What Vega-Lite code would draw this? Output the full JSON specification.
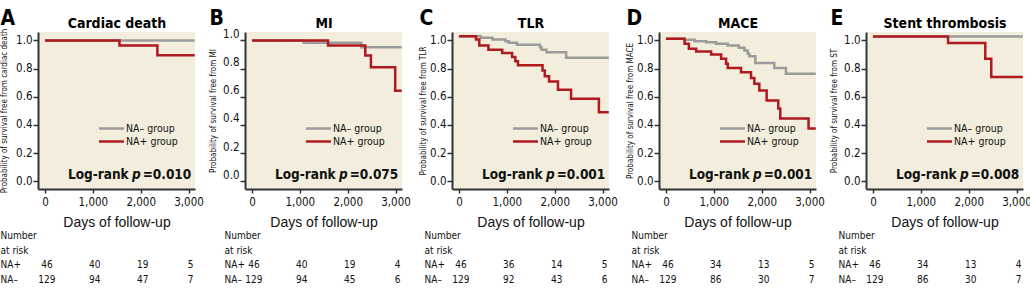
{
  "$schema": "https://vega.github.io/schema/vega-lite/v6.json",
  "padding": {"left": 0, "top": 8, "right": 0, "bottom": 0},
  "background": "white",
  "config": {
    "font": "DejaVu Sans Condensed, Liberation Sans, sans-serif",
    "view": {"stroke": null, "fill": "#f2eddc"},
    "axis": {"grid": false, "domainColor": "#333", "domainWidth": 2, "tickColor": "#333", "tickWidth": 1.5, "labelFont": "DejaVu Sans Condensed, Liberation Sans, sans-serif", "labelFontSize": 11.5, "labelColor": "#111", "titleColor": "#111", "titleFontWeight": "normal", "labelFlush": false, "labelOverlap": false},
    "axisBottom": {"tickSize": 4, "labelPadding": 3, "titleFont": "Liberation Sans", "titleFontSize": 14, "titlePadding": 8},
    "axisLeft": {"tickSize": 5, "labelPadding": 1, "titleFont": "DejaVu Sans Condensed, Liberation Sans, sans-serif", "titleFontSize": 8},
    "legend": {"orient": "none", "legendX": 66, "legendY": 89, "title": null, "symbolType": "M-2,0H2", "symbolSize": 156, "symbolStrokeWidth": 2.5, "labelFont": "DejaVu Sans Condensed, Liberation Sans, sans-serif", "labelFontSize": 10.5, "labelColor": "#111", "labelOffset": 7, "padding": 0, "rowPadding": 0},
    "title": {"font": "DejaVu Sans Condensed, Liberation Sans, sans-serif"},
    "text": {"font": "DejaVu Sans Condensed, Liberation Sans, sans-serif", "color": "#111"}
  },
  "datasets": {
    "km": [
      {"panel": "A", "group": "NA– group", "day": 0, "surv": 1.0},
      {"panel": "A", "group": "NA– group", "day": 3130, "surv": 1.0},
      {"panel": "A", "group": "NA+ group", "day": 0, "surv": 1.0},
      {"panel": "A", "group": "NA+ group", "day": 1557, "surv": 0.965},
      {"panel": "A", "group": "NA+ group", "day": 2349, "surv": 0.894},
      {"panel": "A", "group": "NA+ group", "day": 3130, "surv": 0.894},
      {"panel": "B", "group": "NA– group", "day": 0, "surv": 1.0},
      {"panel": "B", "group": "NA– group", "day": 1083, "surv": 0.984},
      {"panel": "B", "group": "NA– group", "day": 2285, "surv": 0.952},
      {"panel": "B", "group": "NA– group", "day": 3130, "surv": 0.952},
      {"panel": "B", "group": "NA+ group", "day": 0, "surv": 1.0},
      {"panel": "B", "group": "NA+ group", "day": 1590, "surv": 0.964},
      {"panel": "B", "group": "NA+ group", "day": 2368, "surv": 0.893},
      {"panel": "B", "group": "NA+ group", "day": 2486, "surv": 0.81},
      {"panel": "B", "group": "NA+ group", "day": 2993, "surv": 0.643},
      {"panel": "B", "group": "NA+ group", "day": 3130, "surv": 0.643},
      {"panel": "C", "group": "NA– group", "day": 0, "surv": 1.03},
      {"panel": "C", "group": "NA– group", "day": 459, "surv": 1.019},
      {"panel": "C", "group": "NA– group", "day": 699, "surv": 1.007},
      {"panel": "C", "group": "NA– group", "day": 973, "surv": 0.995},
      {"panel": "C", "group": "NA– group", "day": 1041, "surv": 0.983},
      {"panel": "C", "group": "NA– group", "day": 1212, "surv": 0.969},
      {"panel": "C", "group": "NA– group", "day": 1691, "surv": 0.952},
      {"panel": "C", "group": "NA– group", "day": 1726, "surv": 0.934},
      {"panel": "C", "group": "NA– group", "day": 1829, "surv": 0.917},
      {"panel": "C", "group": "NA– group", "day": 2240, "surv": 0.877},
      {"panel": "C", "group": "NA– group", "day": 3130, "surv": 0.877},
      {"panel": "C", "group": "NA+ group", "day": 0, "surv": 1.03},
      {"panel": "C", "group": "NA+ group", "day": 356, "surv": 1.007},
      {"panel": "C", "group": "NA+ group", "day": 425, "surv": 0.965},
      {"panel": "C", "group": "NA+ group", "day": 616, "surv": 0.934},
      {"panel": "C", "group": "NA+ group", "day": 904, "surv": 0.91},
      {"panel": "C", "group": "NA+ group", "day": 1110, "surv": 0.882},
      {"panel": "C", "group": "NA+ group", "day": 1178, "surv": 0.853},
      {"panel": "C", "group": "NA+ group", "day": 1233, "surv": 0.823},
      {"panel": "C", "group": "NA+ group", "day": 1746, "surv": 0.787},
      {"panel": "C", "group": "NA+ group", "day": 1794, "surv": 0.745},
      {"panel": "C", "group": "NA+ group", "day": 1884, "surv": 0.709},
      {"panel": "C", "group": "NA+ group", "day": 2069, "surv": 0.65},
      {"panel": "C", "group": "NA+ group", "day": 2342, "surv": 0.586},
      {"panel": "C", "group": "NA+ group", "day": 2924, "surv": 0.49},
      {"panel": "C", "group": "NA+ group", "day": 3130, "surv": 0.49},
      {"panel": "D", "group": "NA– group", "day": 0, "surv": 1.012},
      {"panel": "D", "group": "NA– group", "day": 389, "surv": 1.005},
      {"panel": "D", "group": "NA– group", "day": 597, "surv": 0.995},
      {"panel": "D", "group": "NA– group", "day": 840, "surv": 0.988},
      {"panel": "D", "group": "NA– group", "day": 1049, "surv": 0.977},
      {"panel": "D", "group": "NA– group", "day": 1292, "surv": 0.965},
      {"panel": "D", "group": "NA– group", "day": 1521, "surv": 0.948},
      {"panel": "D", "group": "NA– group", "day": 1639, "surv": 0.929},
      {"panel": "D", "group": "NA– group", "day": 1708, "surv": 0.905},
      {"panel": "D", "group": "NA– group", "day": 1743, "surv": 0.887},
      {"panel": "D", "group": "NA– group", "day": 1868, "surv": 0.839},
      {"panel": "D", "group": "NA– group", "day": 2264, "surv": 0.804},
      {"panel": "D", "group": "NA– group", "day": 2507, "surv": 0.764},
      {"panel": "D", "group": "NA– group", "day": 3130, "surv": 0.764},
      {"panel": "D", "group": "NA+ group", "day": 0, "surv": 1.012},
      {"panel": "D", "group": "NA+ group", "day": 389, "surv": 0.977},
      {"panel": "D", "group": "NA+ group", "day": 479, "surv": 0.941},
      {"panel": "D", "group": "NA+ group", "day": 632, "surv": 0.922},
      {"panel": "D", "group": "NA+ group", "day": 944, "surv": 0.901},
      {"panel": "D", "group": "NA+ group", "day": 1153, "surv": 0.87},
      {"panel": "D", "group": "NA+ group", "day": 1257, "surv": 0.835},
      {"panel": "D", "group": "NA+ group", "day": 1292, "surv": 0.804},
      {"panel": "D", "group": "NA+ group", "day": 1569, "surv": 0.775},
      {"panel": "D", "group": "NA+ group", "day": 1778, "surv": 0.733},
      {"panel": "D", "group": "NA+ group", "day": 1847, "surv": 0.693},
      {"panel": "D", "group": "NA+ group", "day": 1951, "surv": 0.645},
      {"panel": "D", "group": "NA+ group", "day": 2104, "surv": 0.574},
      {"panel": "D", "group": "NA+ group", "day": 2347, "surv": 0.516},
      {"panel": "D", "group": "NA+ group", "day": 2389, "surv": 0.445},
      {"panel": "D", "group": "NA+ group", "day": 2979, "surv": 0.374},
      {"panel": "D", "group": "NA+ group", "day": 3130, "surv": 0.374},
      {"panel": "E", "group": "NA– group", "day": 0, "surv": 1.028},
      {"panel": "E", "group": "NA– group", "day": 3130, "surv": 1.028},
      {"panel": "E", "group": "NA+ group", "day": 0, "surv": 1.028},
      {"panel": "E", "group": "NA+ group", "day": 1569, "surv": 0.981},
      {"panel": "E", "group": "NA+ group", "day": 2347, "surv": 0.87},
      {"panel": "E", "group": "NA+ group", "day": 2472, "surv": 0.74},
      {"panel": "E", "group": "NA+ group", "day": 3130, "surv": 0.74}
    ],
    "stat": [
      {"panel": "A", "a": "Log-rank", "p": "p", "v": "=0.010"},
      {"panel": "B", "a": "Log-rank", "p": "p", "v": "=0.075"},
      {"panel": "C", "a": "Log-rank", "p": "p", "v": "=0.001"},
      {"panel": "D", "a": "Log-rank", "p": "p", "v": "=0.001"},
      {"panel": "E", "a": "Log-rank", "p": "p", "v": "=0.008"}
    ],
    "risk": [
      {"panel": "A", "grp": "NA+", "day": 0, "n": 46}, {"panel": "A", "grp": "NA+", "day": 1000, "n": 40}, {"panel": "A", "grp": "NA+", "day": 2000, "n": 19}, {"panel": "A", "grp": "NA+", "day": 3000, "n": 5},
      {"panel": "A", "grp": "NA–", "day": 0, "n": 129}, {"panel": "A", "grp": "NA–", "day": 1000, "n": 94}, {"panel": "A", "grp": "NA–", "day": 2000, "n": 47}, {"panel": "A", "grp": "NA–", "day": 3000, "n": 7},
      {"panel": "B", "grp": "NA+", "day": 0, "n": 46}, {"panel": "B", "grp": "NA+", "day": 1000, "n": 40}, {"panel": "B", "grp": "NA+", "day": 2000, "n": 19}, {"panel": "B", "grp": "NA+", "day": 3000, "n": 4},
      {"panel": "B", "grp": "NA–", "day": 0, "n": 129}, {"panel": "B", "grp": "NA–", "day": 1000, "n": 94}, {"panel": "B", "grp": "NA–", "day": 2000, "n": 45}, {"panel": "B", "grp": "NA–", "day": 3000, "n": 6},
      {"panel": "C", "grp": "NA+", "day": 0, "n": 46}, {"panel": "C", "grp": "NA+", "day": 1000, "n": 36}, {"panel": "C", "grp": "NA+", "day": 2000, "n": 14}, {"panel": "C", "grp": "NA+", "day": 3000, "n": 5},
      {"panel": "C", "grp": "NA–", "day": 0, "n": 129}, {"panel": "C", "grp": "NA–", "day": 1000, "n": 92}, {"panel": "C", "grp": "NA–", "day": 2000, "n": 43}, {"panel": "C", "grp": "NA–", "day": 3000, "n": 6},
      {"panel": "D", "grp": "NA+", "day": 0, "n": 46}, {"panel": "D", "grp": "NA+", "day": 1000, "n": 34}, {"panel": "D", "grp": "NA+", "day": 2000, "n": 13}, {"panel": "D", "grp": "NA+", "day": 3000, "n": 5},
      {"panel": "D", "grp": "NA–", "day": 0, "n": 129}, {"panel": "D", "grp": "NA–", "day": 1000, "n": 86}, {"panel": "D", "grp": "NA–", "day": 2000, "n": 30}, {"panel": "D", "grp": "NA–", "day": 3000, "n": 7},
      {"panel": "E", "grp": "NA+", "day": 0, "n": 46}, {"panel": "E", "grp": "NA+", "day": 1000, "n": 34}, {"panel": "E", "grp": "NA+", "day": 2000, "n": 13}, {"panel": "E", "grp": "NA+", "day": 3000, "n": 4},
      {"panel": "E", "grp": "NA–", "day": 0, "n": 129}, {"panel": "E", "grp": "NA–", "day": 1000, "n": 86}, {"panel": "E", "grp": "NA–", "day": 2000, "n": 30}, {"panel": "E", "grp": "NA–", "day": 3000, "n": 7}
    ]
  },
  "columns": 5,
  "spacing": {"column": 50, "row": 39},
  "bounds": "flush",
  "resolve": {"scale": {"color": "independent"}, "legend": {"color": "independent"}},
  "concat": [
    {
      "width": 157, "height": 157,
      "title": {"text": "A", "anchor": "start", "frame": "bounds", "fontSize": 21, "fontWeight": "bold", "baseline": "alphabetic", "offset": -30, "color": "#000"},
      "layer": [
        {"data": {"name": "km"}, "transform": [{"filter": "datum.panel === 'A'"}],
         "mark": {"type": "line", "interpolate": "step-after", "strokeWidth": 2.5, "clip": true},
         "encoding": {
           "x": {"field": "day", "type": "quantitative", "scale": {"domain": [-145, 3135], "nice": false, "zero": false}, "axis": {"orient": "bottom", "values": [0, 1000, 2000, 3000], "format": ",d", "title": "Days of follow-up"}},
           "y": {"field": "surv", "type": "quantitative", "scale": {"domain": [-0.055, 1.06], "nice": false, "zero": false}, "axis": {"values": [0, 0.2, 0.4, 0.6, 0.8, 1], "format": ".1f", "title": "Probability of survival free from cardiac death", "titlePadding": 7}},
           "color": {"field": "group", "type": "nominal", "scale": {"domain": ["NA– group", "NA+ group"], "range": ["#9b9b9b", "#b0191f"]}}
         }},
        {"data": {"name": "stat"}, "transform": [{"filter": "datum.panel === 'A'"}],
         "mark": {"type": "text", "align": "right", "baseline": "alphabetic", "fontSize": 13.5, "fontWeight": "bold", "dx": -12},
         "encoding": {"x": {"datum": 2000, "type": "quantitative", "axis": {"orient": "top", "title": "Cardiac death", "labels": false, "ticks": false, "domain": false, "titleFontSize": 14, "titleFontWeight": "bold", "titleColor": "#000", "titleBaseline": "alphabetic", "titlePadding": 5}}, "y": {"datum": 0.015, "type": "quantitative", "axis": null}, "text": {"field": "a"}}},
        {"data": {"name": "stat"}, "transform": [{"filter": "datum.panel === 'A'"}],
         "mark": {"type": "text", "align": "right", "baseline": "alphabetic", "fontSize": 13.5, "fontWeight": "bold", "fontStyle": "italic", "dx": 0},
         "encoding": {"x": {"datum": 2000, "type": "quantitative", "axis": null}, "y": {"datum": 0.015, "type": "quantitative", "axis": null}, "text": {"field": "p"}}},
        {"data": {"name": "stat"}, "transform": [{"filter": "datum.panel === 'A'"}],
         "mark": {"type": "text", "align": "left", "baseline": "alphabetic", "fontSize": 13.5, "fontWeight": "bold", "dx": 2},
         "encoding": {"x": {"datum": 2000, "type": "quantitative", "axis": null}, "y": {"datum": 0.015, "type": "quantitative", "axis": null}, "text": {"field": "v"}}}
      ],
      "resolve": {"axis": {"x": "independent", "y": "independent"}}
    },
    {
      "width": 157, "height": 157,
      "title": {"text": "B", "anchor": "start", "frame": "bounds", "fontSize": 21, "fontWeight": "bold", "baseline": "alphabetic", "offset": -30, "color": "#000"},
      "layer": [
        {"data": {"name": "km"}, "transform": [{"filter": "datum.panel === 'B'"}],
         "mark": {"type": "line", "interpolate": "step-after", "strokeWidth": 2.5, "clip": true},
         "encoding": {
           "x": {"field": "day", "type": "quantitative", "scale": {"domain": [-145, 3135], "nice": false, "zero": false}, "axis": {"orient": "bottom", "values": [0, 1000, 2000, 3000], "format": ",d", "title": "Days of follow-up"}},
           "y": {"field": "surv", "type": "quantitative", "scale": {"domain": [-0.055, 1.06], "nice": false, "zero": false}, "axis": {"values": [0, 0.2, 0.4, 0.6, 0.8, 1], "format": ".1f", "title": "Probability of survival free from MI", "titlePadding": 5, "labelOffset": -6}},
           "color": {"field": "group", "type": "nominal", "scale": {"domain": ["NA– group", "NA+ group"], "range": ["#9b9b9b", "#b0191f"]}}
         }},
        {"data": {"name": "stat"}, "transform": [{"filter": "datum.panel === 'B'"}],
         "mark": {"type": "text", "align": "right", "baseline": "alphabetic", "fontSize": 13.5, "fontWeight": "bold", "dx": -12},
         "encoding": {"x": {"datum": 2000, "type": "quantitative", "axis": {"orient": "top", "title": "MI", "labels": false, "ticks": false, "domain": false, "titleFontSize": 14, "titleFontWeight": "bold", "titleColor": "#000", "titleBaseline": "alphabetic", "titlePadding": 5}}, "y": {"datum": 0.015, "type": "quantitative", "axis": null}, "text": {"field": "a"}}},
        {"data": {"name": "stat"}, "transform": [{"filter": "datum.panel === 'B'"}],
         "mark": {"type": "text", "align": "right", "baseline": "alphabetic", "fontSize": 13.5, "fontWeight": "bold", "fontStyle": "italic", "dx": 0},
         "encoding": {"x": {"datum": 2000, "type": "quantitative", "axis": null}, "y": {"datum": 0.015, "type": "quantitative", "axis": null}, "text": {"field": "p"}}},
        {"data": {"name": "stat"}, "transform": [{"filter": "datum.panel === 'B'"}],
         "mark": {"type": "text", "align": "left", "baseline": "alphabetic", "fontSize": 13.5, "fontWeight": "bold", "dx": 2},
         "encoding": {"x": {"datum": 2000, "type": "quantitative", "axis": null}, "y": {"datum": 0.015, "type": "quantitative", "axis": null}, "text": {"field": "v"}}}
      ],
      "resolve": {"axis": {"x": "independent", "y": "independent"}}
    },
    {
      "width": 157, "height": 157,
      "title": {"text": "C", "anchor": "start", "frame": "bounds", "fontSize": 21, "fontWeight": "bold", "baseline": "alphabetic", "offset": -30, "color": "#000"},
      "layer": [
        {"data": {"name": "km"}, "transform": [{"filter": "datum.panel === 'C'"}],
         "mark": {"type": "line", "interpolate": "step-after", "strokeWidth": 2.5, "clip": true},
         "encoding": {
           "x": {"field": "day", "type": "quantitative", "scale": {"domain": [-145, 3135], "nice": false, "zero": false}, "axis": {"orient": "bottom", "values": [0, 1000, 2000, 3000], "format": ",d", "title": "Days of follow-up"}},
           "y": {"field": "surv", "type": "quantitative", "scale": {"domain": [-0.055, 1.06], "nice": false, "zero": false}, "axis": {"values": [0, 0.2, 0.4, 0.6, 0.8, 1], "format": ".1f", "title": "Probability of survival free from TLR", "titlePadding": 2}},
           "color": {"field": "group", "type": "nominal", "scale": {"domain": ["NA– group", "NA+ group"], "range": ["#9b9b9b", "#b0191f"]}}
         }},
        {"data": {"name": "stat"}, "transform": [{"filter": "datum.panel === 'C'"}],
         "mark": {"type": "text", "align": "right", "baseline": "alphabetic", "fontSize": 13.5, "fontWeight": "bold", "dx": -12},
         "encoding": {"x": {"datum": 2000, "type": "quantitative", "axis": {"orient": "top", "title": "TLR", "labels": false, "ticks": false, "domain": false, "titleFontSize": 14, "titleFontWeight": "bold", "titleColor": "#000", "titleBaseline": "alphabetic", "titlePadding": 5}}, "y": {"datum": 0.015, "type": "quantitative", "axis": null}, "text": {"field": "a"}}},
        {"data": {"name": "stat"}, "transform": [{"filter": "datum.panel === 'C'"}],
         "mark": {"type": "text", "align": "right", "baseline": "alphabetic", "fontSize": 13.5, "fontWeight": "bold", "fontStyle": "italic", "dx": 0},
         "encoding": {"x": {"datum": 2000, "type": "quantitative", "axis": null}, "y": {"datum": 0.015, "type": "quantitative", "axis": null}, "text": {"field": "p"}}},
        {"data": {"name": "stat"}, "transform": [{"filter": "datum.panel === 'C'"}],
         "mark": {"type": "text", "align": "left", "baseline": "alphabetic", "fontSize": 13.5, "fontWeight": "bold", "dx": 2},
         "encoding": {"x": {"datum": 2000, "type": "quantitative", "axis": null}, "y": {"datum": 0.015, "type": "quantitative", "axis": null}, "text": {"field": "v"}}}
      ],
      "resolve": {"axis": {"x": "independent", "y": "independent"}}
    },
    {
      "width": 157, "height": 157,
      "title": {"text": "D", "anchor": "start", "frame": "bounds", "fontSize": 21, "fontWeight": "bold", "baseline": "alphabetic", "offset": -30, "color": "#000"},
      "layer": [
        {"data": {"name": "km"}, "transform": [{"filter": "datum.panel === 'D'"}],
         "mark": {"type": "line", "interpolate": "step-after", "strokeWidth": 2.5, "clip": true},
         "encoding": {
           "x": {"field": "day", "type": "quantitative", "scale": {"domain": [-145, 3135], "nice": false, "zero": false}, "axis": {"orient": "bottom", "values": [0, 1000, 2000, 3000], "format": ",d", "title": "Days of follow-up"}},
           "y": {"field": "surv", "type": "quantitative", "scale": {"domain": [-0.055, 1.06], "nice": false, "zero": false}, "axis": {"values": [0, 0.2, 0.4, 0.6, 0.8, 1], "format": ".1f", "title": "Probability of survival free from MACE", "titlePadding": 2}},
           "color": {"field": "group", "type": "nominal", "scale": {"domain": ["NA– group", "NA+ group"], "range": ["#9b9b9b", "#b0191f"]}}
         }},
        {"data": {"name": "stat"}, "transform": [{"filter": "datum.panel === 'D'"}],
         "mark": {"type": "text", "align": "right", "baseline": "alphabetic", "fontSize": 13.5, "fontWeight": "bold", "dx": -12},
         "encoding": {"x": {"datum": 2000, "type": "quantitative", "axis": {"orient": "top", "title": "MACE", "labels": false, "ticks": false, "domain": false, "titleFontSize": 14, "titleFontWeight": "bold", "titleColor": "#000", "titleBaseline": "alphabetic", "titlePadding": 5}}, "y": {"datum": 0.015, "type": "quantitative", "axis": null}, "text": {"field": "a"}}},
        {"data": {"name": "stat"}, "transform": [{"filter": "datum.panel === 'D'"}],
         "mark": {"type": "text", "align": "right", "baseline": "alphabetic", "fontSize": 13.5, "fontWeight": "bold", "fontStyle": "italic", "dx": 0},
         "encoding": {"x": {"datum": 2000, "type": "quantitative", "axis": null}, "y": {"datum": 0.015, "type": "quantitative", "axis": null}, "text": {"field": "p"}}},
        {"data": {"name": "stat"}, "transform": [{"filter": "datum.panel === 'D'"}],
         "mark": {"type": "text", "align": "left", "baseline": "alphabetic", "fontSize": 13.5, "fontWeight": "bold", "dx": 2},
         "encoding": {"x": {"datum": 2000, "type": "quantitative", "axis": null}, "y": {"datum": 0.015, "type": "quantitative", "axis": null}, "text": {"field": "v"}}}
      ],
      "resolve": {"axis": {"x": "independent", "y": "independent"}}
    },
    {
      "width": 157, "height": 157,
      "title": {"text": "E", "anchor": "start", "frame": "bounds", "fontSize": 21, "fontWeight": "bold", "baseline": "alphabetic", "offset": -30, "color": "#000"},
      "layer": [
        {"data": {"name": "km"}, "transform": [{"filter": "datum.panel === 'E'"}],
         "mark": {"type": "line", "interpolate": "step-after", "strokeWidth": 2.5, "clip": true},
         "encoding": {
           "x": {"field": "day", "type": "quantitative", "scale": {"domain": [-145, 3135], "nice": false, "zero": false}, "axis": {"orient": "bottom", "values": [0, 1000, 2000, 3000], "format": ",d", "title": "Days of follow-up"}},
           "y": {"field": "surv", "type": "quantitative", "scale": {"domain": [-0.055, 1.06], "nice": false, "zero": false}, "axis": {"values": [0, 0.2, 0.4, 0.6, 0.8, 1], "format": ".1f", "title": "Probability of survival free from ST", "titlePadding": 5}},
           "color": {"field": "group", "type": "nominal", "scale": {"domain": ["NA– group", "NA+ group"], "range": ["#9b9b9b", "#b0191f"]}}
         }},
        {"data": {"name": "stat"}, "transform": [{"filter": "datum.panel === 'E'"}],
         "mark": {"type": "text", "align": "right", "baseline": "alphabetic", "fontSize": 13.5, "fontWeight": "bold", "dx": -12},
         "encoding": {"x": {"datum": 2000, "type": "quantitative", "axis": {"orient": "top", "title": "Stent thrombosis", "labels": false, "ticks": false, "domain": false, "titleFontSize": 14, "titleFontWeight": "bold", "titleColor": "#000", "titleBaseline": "alphabetic", "titlePadding": 5}}, "y": {"datum": 0.015, "type": "quantitative", "axis": null}, "text": {"field": "a"}}},
        {"data": {"name": "stat"}, "transform": [{"filter": "datum.panel === 'E'"}],
         "mark": {"type": "text", "align": "right", "baseline": "alphabetic", "fontSize": 13.5, "fontWeight": "bold", "fontStyle": "italic", "dx": 0},
         "encoding": {"x": {"datum": 2000, "type": "quantitative", "axis": null}, "y": {"datum": 0.015, "type": "quantitative", "axis": null}, "text": {"field": "p"}}},
        {"data": {"name": "stat"}, "transform": [{"filter": "datum.panel === 'E'"}],
         "mark": {"type": "text", "align": "left", "baseline": "alphabetic", "fontSize": 13.5, "fontWeight": "bold", "dx": 2},
         "encoding": {"x": {"datum": 2000, "type": "quantitative", "axis": null}, "y": {"datum": 0.015, "type": "quantitative", "axis": null}, "text": {"field": "v"}}}
      ],
      "resolve": {"axis": {"x": "independent", "y": "independent"}}
    },
    {
      "width": 157, "height": 59, "view": {"fillOpacity": 0, "stroke": null},
      "data": {"name": "risk"}, "transform": [{"filter": "datum.panel === 'A'"}],
      "mark": {"type": "text", "fontSize": 10, "align": "center", "baseline": "middle", "dx": 2},
      "encoding": {
        "x": {"field": "day", "type": "quantitative", "scale": {"domain": [-145, 3135], "nice": false, "zero": false}, "axis": null},
        "y": {"field": "grp", "type": "nominal", "scale": {"type": "point", "domain": ["Number", "at risk", "NA+", "NA–"], "padding": 0.5}, "axis": {"title": null, "domain": false, "ticks": false, "tickSize": 0, "labelAlign": "left", "labelPadding": 38, "labelFontSize": 10, "labelBaseline": "middle"}},
        "text": {"field": "n", "type": "quantitative"}
      }
    },
    {
      "width": 157, "height": 59, "view": {"fillOpacity": 0, "stroke": null},
      "data": {"name": "risk"}, "transform": [{"filter": "datum.panel === 'B'"}],
      "mark": {"type": "text", "fontSize": 10, "align": "center", "baseline": "middle", "dx": 2},
      "encoding": {
        "x": {"field": "day", "type": "quantitative", "scale": {"domain": [-145, 3135], "nice": false, "zero": false}, "axis": null},
        "y": {"field": "grp", "type": "nominal", "scale": {"type": "point", "domain": ["Number", "at risk", "NA+", "NA–"], "padding": 0.5}, "axis": {"title": null, "domain": false, "ticks": false, "tickSize": 0, "labelAlign": "left", "labelPadding": 21, "labelFontSize": 10, "labelBaseline": "middle"}},
        "text": {"field": "n", "type": "quantitative"}
      }
    },
    {
      "width": 157, "height": 59, "view": {"fillOpacity": 0, "stroke": null},
      "data": {"name": "risk"}, "transform": [{"filter": "datum.panel === 'C'"}],
      "mark": {"type": "text", "fontSize": 10, "align": "center", "baseline": "middle", "dx": 2},
      "encoding": {
        "x": {"field": "day", "type": "quantitative", "scale": {"domain": [-145, 3135], "nice": false, "zero": false}, "axis": null},
        "y": {"field": "grp", "type": "nominal", "scale": {"type": "point", "domain": ["Number", "at risk", "NA+", "NA–"], "padding": 0.5}, "axis": {"title": null, "domain": false, "ticks": false, "tickSize": 0, "labelAlign": "left", "labelPadding": 28, "labelFontSize": 10, "labelBaseline": "middle"}},
        "text": {"field": "n", "type": "quantitative"}
      }
    },
    {
      "width": 157, "height": 59, "view": {"fillOpacity": 0, "stroke": null},
      "data": {"name": "risk"}, "transform": [{"filter": "datum.panel === 'D'"}],
      "mark": {"type": "text", "fontSize": 10, "align": "center", "baseline": "middle", "dx": 2},
      "encoding": {
        "x": {"field": "day", "type": "quantitative", "scale": {"domain": [-145, 3135], "nice": false, "zero": false}, "axis": null},
        "y": {"field": "grp", "type": "nominal", "scale": {"type": "point", "domain": ["Number", "at risk", "NA+", "NA–"], "padding": 0.5}, "axis": {"title": null, "domain": false, "ticks": false, "tickSize": 0, "labelAlign": "left", "labelPadding": 28, "labelFontSize": 10, "labelBaseline": "middle"}},
        "text": {"field": "n", "type": "quantitative"}
      }
    },
    {
      "width": 157, "height": 59, "view": {"fillOpacity": 0, "stroke": null},
      "data": {"name": "risk"}, "transform": [{"filter": "datum.panel === 'E'"}],
      "mark": {"type": "text", "fontSize": 10, "align": "center", "baseline": "middle", "dx": 2},
      "encoding": {
        "x": {"field": "day", "type": "quantitative", "scale": {"domain": [-145, 3135], "nice": false, "zero": false}, "axis": null},
        "y": {"field": "grp", "type": "nominal", "scale": {"type": "point", "domain": ["Number", "at risk", "NA+", "NA–"], "padding": 0.5}, "axis": {"title": null, "domain": false, "ticks": false, "tickSize": 0, "labelAlign": "left", "labelPadding": 28, "labelFontSize": 10, "labelBaseline": "middle"}},
        "text": {"field": "n", "type": "quantitative"}
      }
    }
  ]
}
